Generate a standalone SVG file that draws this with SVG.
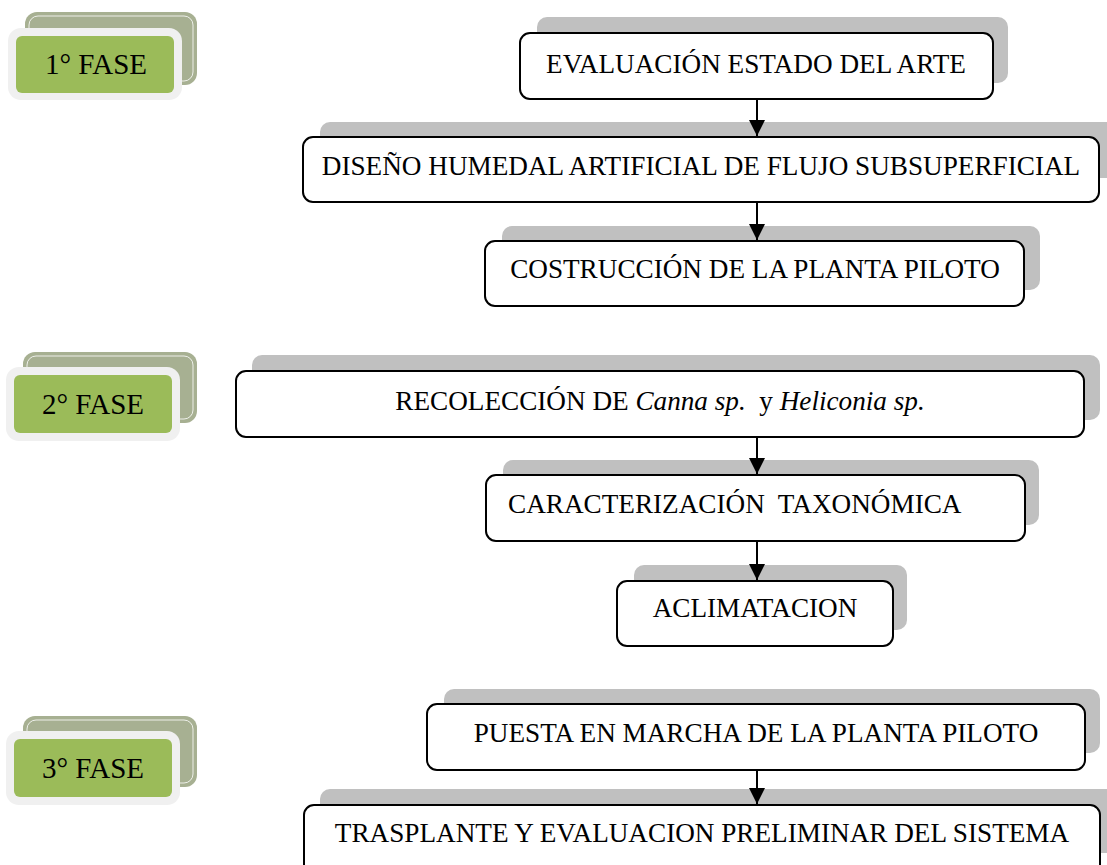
<svg xmlns="http://www.w3.org/2000/svg" width="1107" height="865" viewBox="0 0 1107 865">
<style>
.sh{fill:#c0c0c0}
.bx{fill:#ffffff;stroke:#000000;stroke-width:2}
.t{font-family:"Liberation Serif","Times New Roman",serif;font-size:27.2px;fill:#000000}
.f{font-family:"Liberation Serif","Times New Roman",serif;font-size:29px;fill:#000000}
.back{fill:#a7b092}
.backline{fill:none;stroke:#ffffff;stroke-width:1;stroke-opacity:0.8}
.frame{fill:#f0f0f0}
.green{fill:#9bbb59}
.con{stroke:#000000;stroke-width:2;fill:none}
</style>
<defs>
<marker id="ah" markerUnits="userSpaceOnUse" markerWidth="16" markerHeight="16" viewBox="0 0 16 16" refX="16" refY="8" orient="auto">
<path d="M0,0 L16,8 L0,16 z" fill="#000000"/>
</marker>
</defs>
<rect width="1107" height="865" fill="#ffffff"/>

<g id="fase1">
<rect class="back" x="25" y="12" width="172" height="73" rx="12"/>
<rect class="backline" x="29" y="16" width="164" height="65" rx="9"/>
<rect class="frame" x="8" y="28" width="174" height="72" rx="13"/>
<rect class="green" x="16" y="36" width="158" height="57" rx="6"/>
<text class="f" x="96" y="74" text-anchor="middle">1° FASE</text>
</g>

<g id="fase2">
<rect class="back" x="23" y="352" width="174" height="71" rx="12"/>
<rect class="backline" x="27" y="356" width="166" height="63" rx="9"/>
<rect class="frame" x="6" y="367" width="174" height="74" rx="13"/>
<rect class="green" x="14" y="375" width="158" height="58" rx="6"/>
<text class="f" x="93" y="414" text-anchor="middle">2° FASE</text>
</g>

<g id="fase3">
<rect class="back" x="23" y="716" width="174" height="71" rx="12"/>
<rect class="backline" x="27" y="720" width="166" height="63" rx="9"/>
<rect class="frame" x="6" y="731" width="174" height="74" rx="13"/>
<rect class="green" x="14" y="739" width="158" height="58" rx="6"/>
<text class="f" x="93" y="778" text-anchor="middle">3° FASE</text>
</g>

<g id="evaluacion">
<rect class="sh" x="537" y="17" width="471" height="66" rx="10"/>
<rect class="bx" x="520" y="33" width="473" height="66" rx="10"/>
<text class="t" x="756" y="73" text-anchor="middle">EVALUACIÓN ESTADO DEL ARTE</text>
</g>

<g id="diseno">
<rect class="sh" x="320" y="122" width="800" height="56" rx="10"/>
<rect class="bx" x="303" y="137" width="796" height="65" rx="10"/>
<text class="t" x="701" y="175" text-anchor="middle">DISEÑO HUMEDAL ARTIFICIAL DE FLUJO SUBSUPERFICIAL</text>
</g>

<g id="costruccion">
<rect class="sh" x="502" y="226" width="538" height="64" rx="10"/>
<rect class="bx" x="485" y="241" width="539" height="65" rx="10"/>
<text class="t" x="755" y="278" text-anchor="middle">COSTRUCCIÓN DE LA PLANTA PILOTO</text>
</g>

<g id="recoleccion">
<rect class="sh" x="252" y="355" width="848" height="65" rx="10"/>
<rect class="bx" x="236" y="371" width="848" height="66" rx="10"/>
<text class="t" x="660" y="410" text-anchor="middle" xml:space="preserve">RECOLECCIÓN DE <tspan font-style="italic">Canna sp.</tspan>  y <tspan font-style="italic">Heliconia sp.</tspan></text>
</g>

<g id="caracterizacion">
<rect class="sh" x="503" y="460" width="536" height="65" rx="10"/>
<rect class="bx" x="486" y="475" width="539" height="66" rx="10"/>
<text class="t" x="508" y="513" xml:space="preserve">CARACTERIZACIÓN  TAXONÓMICA</text>
</g>

<g id="aclimatacion">
<rect class="sh" x="634" y="565" width="273" height="65" rx="10"/>
<rect class="bx" x="617" y="581" width="276" height="65" rx="10"/>
<text class="t" x="755" y="617" text-anchor="middle">ACLIMATACION</text>
</g>

<g id="puesta">
<rect class="sh" x="444" y="689" width="656" height="64" rx="10"/>
<rect class="bx" x="427" y="704" width="658" height="66" rx="10"/>
<text class="t" x="756" y="742" text-anchor="middle">PUESTA EN MARCHA DE LA PLANTA PILOTO</text>
</g>

<g id="trasplante">
<rect class="sh" x="320" y="789" width="800" height="64" rx="10"/>
<rect class="bx" x="304" y="805" width="796" height="70" rx="10"/>
<text class="t" x="702" y="842" text-anchor="middle">TRASPLANTE Y EVALUACION PRELIMINAR DEL SISTEMA</text>
</g>

<g id="connectors">
<line class="con" x1="757" y1="99" x2="757" y2="136" marker-end="url(#ah)"/>
<line class="con" x1="757" y1="202" x2="757" y2="240" marker-end="url(#ah)"/>
<line class="con" x1="757" y1="437" x2="757" y2="474" marker-end="url(#ah)"/>
<line class="con" x1="757" y1="541" x2="757" y2="580" marker-end="url(#ah)"/>
<line class="con" x1="757" y1="770" x2="757" y2="804" marker-end="url(#ah)"/>
</g>
</svg>
